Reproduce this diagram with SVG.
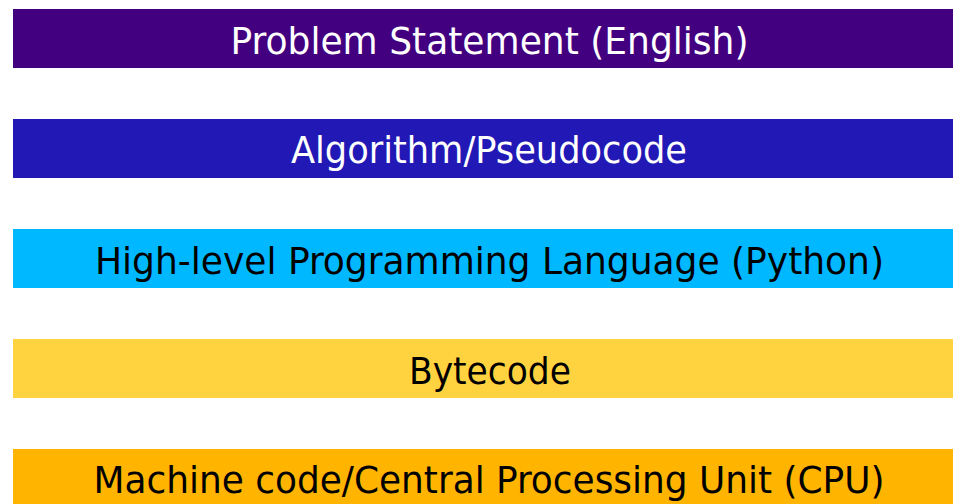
<svg xmlns="http://www.w3.org/2000/svg" width="953" height="504" viewBox="0 0 953 504">
  <style>
    .bar { stroke: none; }
    .lbl { font-family: "DejaVu Sans Condensed", "DejaVu Sans", "Liberation Sans", sans-serif; font-stretch: condensed; font-size: 38px; text-anchor: middle; }
    .light { fill: #ffffff; }
    .dark { fill: #000000; }
  </style>
  <rect width="953" height="504" fill="#ffffff"/>

  <!-- layers, from problem statement down to machine code -->
  <g id="problem">
    <rect class="bar" x="13" y="9" width="960" height="59" fill="#420080"/>
    <text class="lbl light" x="489.5" y="54" textLength="518" lengthAdjust="spacingAndGlyphs">Problem Statement (English)</text>
  </g>
  <g id="algorithm">
    <rect class="bar" x="13" y="119" width="960" height="59" fill="#2118b5"/>
    <text class="lbl light" x="489" y="163" textLength="396" lengthAdjust="spacingAndGlyphs">Algorithm/Pseudocode</text>
  </g>
  <g id="python">
    <rect class="bar" x="13" y="229" width="960" height="59" fill="#00b8ff"/>
    <text class="lbl dark" x="489.5" y="273.5" textLength="789" lengthAdjust="spacingAndGlyphs">High-level Programming Language (Python)</text>
  </g>
  <g id="bytecode">
    <rect class="bar" x="13" y="339" width="960" height="59" fill="#ffd23f"/>
    <text class="lbl dark" x="490" y="383.5" textLength="162" lengthAdjust="spacingAndGlyphs">Bytecode</text>
  </g>
  <g id="machine">
    <rect class="bar" x="13" y="449" width="960" height="59" fill="#ffb400"/>
    <text class="lbl dark" x="489" y="493" textLength="791" lengthAdjust="spacingAndGlyphs">Machine code/Central Processing Unit (CPU)</text>
  </g>

  <g id="connectors"/>
</svg>
